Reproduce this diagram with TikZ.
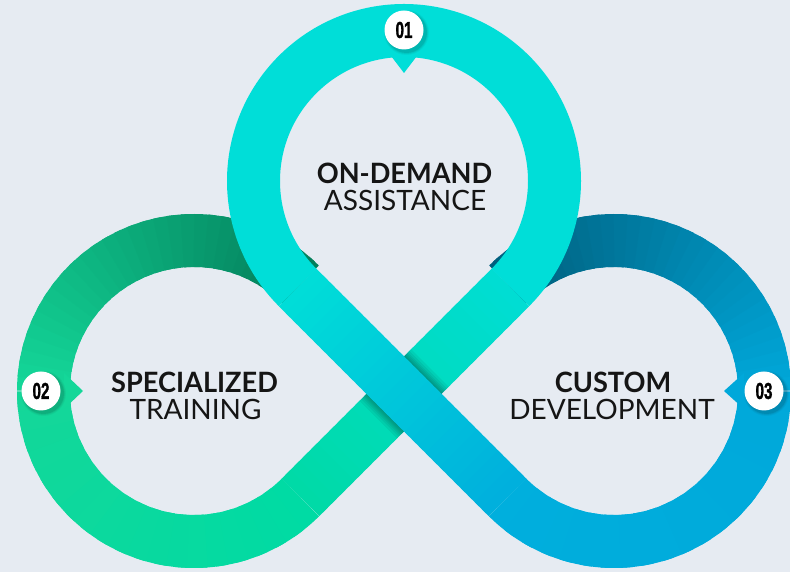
\documentclass[tikz,border=0pt]{standalone}
\usepackage{fontspec}
\setmainfont{Lato}
\newfontfamily\numfont[BoldFeatures={FakeBold=1.6}]{Liberation Sans}
\usetikzlibrary{calc}
\definecolor{bg}{HTML}{E6EBF2}
\definecolor{topc}{HTML}{00DED8}
\definecolor{grn}{HTML}{00DBA4}
\definecolor{grnL}{HTML}{14D799}
\definecolor{grnD}{HTML}{037E5A}
\definecolor{blu}{HTML}{00AFDD}
\definecolor{bluR}{HTML}{00A8DA}
\definecolor{bluD}{HTML}{005E7C}
\definecolor{undA}{HTML}{00DDD4}
\definecolor{undB}{HTML}{00DAA6}
\definecolor{ink}{HTML}{151515}
\tikzset{
  band/.style={line width=53pt, line cap=butt},
  lblb/.style={font=\fontsize{28}{30}\selectfont\bfseries, text=ink, inner sep=0pt},
  lblr/.style={font=\fontsize{28}{30}\selectfont, text=ink, inner sep=0pt},
  badge/.style={circle, fill=white, minimum size=39pt, inner sep=0pt,
    font=\numfont\bfseries\fontsize{23}{23}\selectfont, text=black},
}
\newcommand\gradarc[7]{%
  \foreach \k in {1,...,#7}{%
    \pgfmathsetmacro\gaA{#3+(#4-#3)*(\k-1)/#7}%
    \pgfmathsetmacro\gaB{#3+(#4-#3)*min(\k+0.6,#7)/#7}%
    \pgfmathsetmacro\gaP{100*(\k-0.5)/#7}%
    \draw[band, draw=#6!\gaP!#5] ([shift={(#1,#2)}]\gaA:150.5) arc[start angle=\gaA, end angle=\gaB, radius=150.5pt];
  }}
\newcommand\gradline[5]{%
  \foreach \k in {1,...,#5}{%
    \pgfmathsetmacro\gaA{(\k-1)/#5}%
    \pgfmathsetmacro\gaB{min(\k+0.6,#5)/#5}%
    \pgfmathsetmacro\gaP{100*(\k-0.5)/#5}%
    \draw[band, draw=#4!\gaP!#3] ($(#1)!\gaA!(#2)$) -- ($(#1)!\gaB!(#2)$);
  }}
\newcommand\numtxt[1]{\scalebox{0.66}[1]{#1}}
\newcommand\boldtxt[1]{\scalebox{0.97}[1]{#1}}
\begin{document}
\begin{tikzpicture}[x=1pt,y=1pt]
  \fill[bg] (0,0) rectangle (790,572);
  \useasboundingbox (0,0) rectangle (790,572);
  % centres and tangent points
  \coordinate (TC) at (404,391);
  \coordinate (LC) at (194,181);
  \coordinate (RC) at (614,181);
  \coordinate (TR) at (510.42,284.58);
  \coordinate (TL) at (297.58,284.58);
  \coordinate (LT) at (300.42,74.58);
  \coordinate (RT) at (507.58,74.58);
  % left loop
  \gradarc{194}{181}{-45}{-180}{grn}{grnL}{20}
  \gradarc{194}{181}{-180}{-315}{grnL}{grnD}{30}
  % right loop
  \gradarc{614}{181}{225}{360}{blu}{bluR}{20}
  \gradarc{614}{181}{360}{495}{bluR}{bluD}{30}
  % under diagonal
  \gradline{TR}{LT}{undA}{undB}{24}
  % top arc
  \draw[band, draw=topc] (TR) arc[start angle=-45, end angle=225, radius=150.5pt];
  % shadow of the over diagonal on the under band
  \begin{scope}
    \clip ($(TR)+(18.74,-18.74)$) -- ($(TR)+(-18.74,18.74)$) -- ($(LT)+(-18.74,18.74)$) -- ($(LT)+(18.74,-18.74)$) -- cycle;
    \foreach \w in {55,58,61,64,68,73}{
      \draw[line width=\w pt, line cap=butt, black, opacity=0.06] (TL) -- (RT);
    }
  \end{scope}
  % over diagonal
  \gradline{TL}{RT}{topc}{blu}{30}
  % pointers
  \fill[topc] (388,520) -- (420,520) -- (404,499) -- cycle;
  \fill[grnL] (64,199) -- (64,163) -- (83,181) -- cycle;
  \fill[bluR] (744,199) -- (744,163) -- (724,181) -- cycle;
  % badge shadows
  \foreach \x/\y in {404/542, 41/181, 764/181}{
    \foreach \r/\o in {22.5/0.04,21.5/0.06,20.5/0.09}{
      \fill[black, opacity=\o] (\x+2.5,\y-2.5) circle[radius=\r pt];
    }
  }
  \node[badge] (b1) at (404,542) {\numtxt{01}};
  \node[badge] (b2) at (41,181) {\numtxt{02}};
  \node[badge] (b3) at (764,181) {\numtxt{03}};
  % labels
  \node[lblb] (t1a) at (404.5,399) {\boldtxt{ON-DEMAND}};
  \node[lblr] (t1b) at (405,371.5) {ASSISTANCE};
  \node[lblb] (t2a) at (194.5,190) {\boldtxt{SPECIALIZED}};
  \node[lblr] (t2b) at (195.5,163) {TRAINING};
  \node[lblb] (t3a) at (613,190) {\boldtxt{CUSTOM}};
  \node[lblr] (t3b) at (612,163) {DEVELOPMENT};
\end{tikzpicture}
\end{document}
